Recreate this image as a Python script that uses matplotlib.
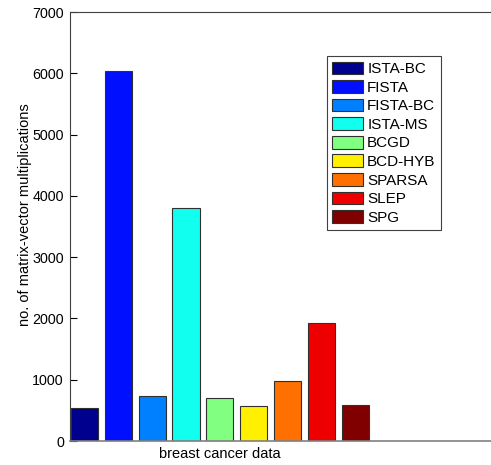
import numpy as np
import matplotlib
matplotlib.use("Agg")
import matplotlib.pyplot as plt

plt.rcParams['font.family'] = ['Liberation Sans', 'DejaVu Sans']

methods = ['ISTA-BC', 'FISTA', 'FISTA-BC', 'ISTA-MS', 'BCGD',
           'BCD-HYB', 'SPARSA', 'SLEP', 'SPG']
counts = [543, 6045, 729, 3800, 701, 566, 979, 1920, 582]
colors = ['#00008f', '#0010ff', '#0080ff', '#10ffef', '#80ff80',
          '#ffef00', '#ff7000', '#ef0000', '#800000']
dataset = 'breast cancer data'

fig = plt.figure(figsize=(4.91, 4.65), dpi=100)
ax = fig.add_axes([69.5 / 491, 24 / 465, 1 - 69.5 / 491, 429 / 465])

x = np.arange(len(methods))
for i in range(len(methods)):
    ax.bar(x[i], counts[i], width=0.8, color=colors[i], edgecolor='#303030',
           linewidth=0.8, label=methods[i])

ax.set_xlim(-0.443, 12.01)
ax.set_ylim(0, 7000)
ax.set_yticks(np.arange(0, 7001, 1000))
ax.set_xticks([4])
ax.set_xticklabels([dataset], fontsize=10.5)
ax.tick_params(axis='y', direction='in', length=5, labelsize=10.3, pad=4)
ax.tick_params(axis='x', length=0, pad=4)
ax.set_ylabel('no. of matrix-vector multiplications', fontsize=10.5)
ax.yaxis.set_label_coords(-0.089, 0.527)

ax.spines['right'].set_visible(False)
for s in ['left', 'top']:
    ax.spines[s].set_color('#404040')
ax.spines['bottom'].set_color('#808080')
ax.spines['bottom'].set_linewidth(1.2)

leg = ax.legend(loc='upper left', bbox_to_anchor=(0.611, 0.897), borderaxespad=0,
                fontsize=11, fancybox=False, handlelength=2.0, handleheight=0.9,
                labelspacing=0.26, handletextpad=0.28, borderpad=0.35, framealpha=1)
leg.get_frame().set_edgecolor('#404040')
leg.get_frame().set_linewidth(0.8)

fig.savefig('out.png', dpi=100)
